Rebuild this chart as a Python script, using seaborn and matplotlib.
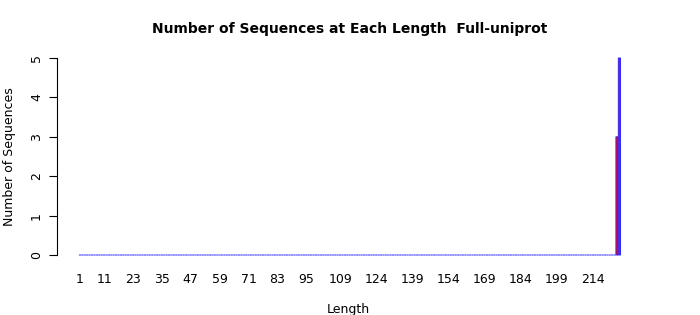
import matplotlib
matplotlib.use("Agg")
import matplotlib.pyplot as plt
import seaborn as sns
import pandas as pd
import numpy as np

# Data: sequence lengths 1..225, counts (all zero except the last two)
lengths = list(range(1, 226))
counts = [0] * 223 + [3, 5]
shown_labels = [1, 11, 23, 35, 47, 59, 71, 83, 95, 109, 124, 139, 154, 169, 184, 199, 214]
y_ticks = [0, 1, 2, 3, 4, 5]

df = pd.DataFrame({"Length": lengths, "Count": counts})

sns.set_style("white")
plt.rcParams["font.family"] = ["DejaVu Sans"]
plt.rcParams["text.color"] = "black"
plt.rcParams["axes.labelcolor"] = "black"
plt.rcParams["xtick.color"] = "black"
plt.rcParams["ytick.color"] = "black"

fig = plt.figure(figsize=(7.0, 3.15), dpi=100)
ax = fig.add_axes([57 / 700, 60 / 315, 583 / 700, 197 / 315])

sns.barplot(data=df, x="Length", y="Count", ax=ax, color="red",
            edgecolor="#2a2aff", linewidth=0.7, width=0.9, saturation=1,
            errorbar=None, order=lengths)
for p in ax.patches:
    p.set_clip_on(False)
    p.set_snap(False)

ax.set_xlim(-9.55, 232.55)
ax.set_ylim(0, 5)

pos = [lengths.index(v) for v in shown_labels]
ax.set_xticks(pos)
ax.set_xticklabels([str(v) for v in shown_labels], fontsize=9)
ax.tick_params(axis="x", length=0, pad=13)

ax.set_yticks(y_ticks)
ax.set_yticklabels([str(v) for v in y_ticks], fontsize=9, rotation=90, va="center")
ax.tick_params(axis="y", length=6, width=0.8, pad=4, color="black", left=True)

for s in ["top", "right", "bottom"]:
    ax.spines[s].set_visible(False)
ax.spines["left"].set_color("black")
ax.spines["left"].set_linewidth(0.8)

ax.set_xlabel("Length", fontsize=9, labelpad=12)
ax.set_ylabel("Number of Sequences", fontsize=9, labelpad=10)
fig.suptitle("Number of Sequences at Each Length  Full-uniprot", fontsize=10,
             fontweight="bold", x=0.5, y=1 - 29 / 315, va="center", color="black")

fig.savefig("out.png", dpi=100)
